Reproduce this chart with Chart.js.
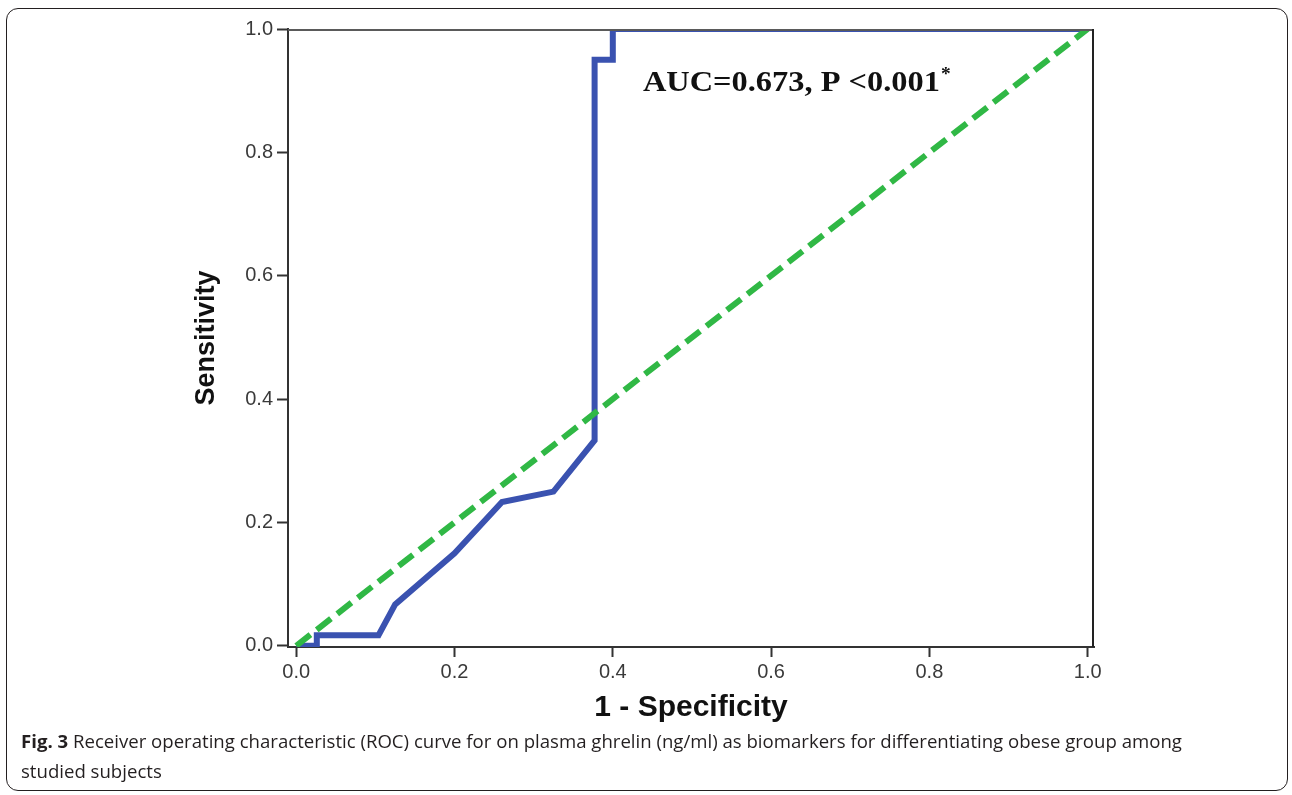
<!DOCTYPE html>
<html><head><meta charset="utf-8">
<script src="https://cdn.jsdelivr.net/npm/chart.js@4.4.1/dist/chart.umd.min.js"></script>
<style>
html,body{margin:0;padding:0;background:#fff;}
body{width:1292px;height:795px;position:relative;overflow:hidden;}
#c{position:absolute;left:0;top:0;}
#frame{position:absolute;left:6px;top:8px;width:1282px;height:783px;border:1.5px solid #231f20;border-radius:12px;box-sizing:border-box;pointer-events:none;}
#cap{position:absolute;left:21px;top:726px;font-family:"Open Sans",sans-serif;font-size:18.6px;line-height:30px;color:#231f20;white-space:nowrap;}
#cap b{font-weight:700;}
</style></head>
<body>
<canvas id="c" width="1292" height="730"></canvas>
<div id="frame"></div>
<div id="cap"><b>Fig. 3</b> Receiver operating characteristic (ROC) curve for on plasma ghrelin (ng/ml) as biomarkers for differentiating obese group among<br>studied subjects</div>
<script>
// ROC curve (1 - Specificity, Sensitivity)
const rocX = [0, 0.026, 0.026, 0.104, 0.125, 0.2, 0.26, 0.325, 0.377, 0.377, 0.4, 0.4, 1.0];
const rocY = [0, 0, 0.017, 0.017, 0.067, 0.15, 0.233, 0.25, 0.333, 0.95, 0.95, 1.0, 1.0];
// Reference diagonal
const refX = [0, 1];
const refY = [0, 1];
// Tick labels
const xTicks = [0, 0.2, 0.4, 0.6, 0.8, 1.0];
const yTicks = [0, 0.2, 0.4, 0.6, 0.8, 1.0];
const xTitle = '1 - Specificity';
const yTitle = 'Sensitivity';
const annText = 'AUC=0.673, P <0.001';
const annSup = '*';
const annX = 0.438, annY = 0.9;

const sans = '"Liberation Sans", Arial, sans-serif';

const framePlugin = {
  id: 'frameAndNote',
  afterDatasetsDraw(chart) {
    const {ctx, chartArea: a} = chart;
    ctx.save();
    ctx.lineWidth = 2;
    ctx.strokeStyle = '#5a5a5a';
    ctx.beginPath(); ctx.moveTo(a.left, a.top + 1); ctx.lineTo(a.right, a.top + 1); ctx.stroke();
    ctx.strokeStyle = '#222';
    ctx.beginPath(); ctx.moveTo(a.right - 1, a.top); ctx.lineTo(a.right - 1, a.bottom); ctx.stroke();
    const px = chart.scales.x.getPixelForValue(annX);
    const py = chart.scales.y.getPixelForValue(annY);
    ctx.fillStyle = '#111';
    ctx.textAlign = 'left';
    ctx.textBaseline = 'alphabetic';
    ctx.font = 'bold 30px "Liberation Serif", "Times New Roman", serif';
    ctx.translate(px, py);
    ctx.scale(1.08, 1);
    ctx.fillText(annText, 0, 0);
    const w = ctx.measureText(annText).width;
    ctx.font = 'bold 18px "Liberation Serif", "Times New Roman", serif';
    ctx.fillText(annSup, w + 1, -11);
    ctx.restore();
  }
};

new Chart(document.getElementById('c'), {
  type: 'scatter',
  data: {
    datasets: [
      {
        label: 'Reference line',
        data: refX.map((x, i) => ({x, y: refY[i]})),
        showLine: true,
        borderColor: '#30b845',
        borderWidth: 6,
        borderDash: [18, 8],
        borderCapStyle: 'butt',
        pointRadius: 0,
        tension: 0,
        fill: false,
        clip: 0
      },
      {
        label: 'ROC',
        data: rocX.map((x, i) => ({x, y: rocY[i]})),
        showLine: true,
        borderColor: '#3a52b0',
        borderWidth: 6,
        borderJoinStyle: 'miter',
        pointRadius: 0,
        tension: 0,
        fill: false,
        clip: 0
      }
    ]
  },
  options: {
    responsive: false,
    animation: false,
    devicePixelRatio: 1,
    layout: {padding: {left: 0, top: 29, right: 198, bottom: 0}},
    plugins: {legend: {display: false}, tooltip: {enabled: false}},
    scales: {
      x: {
        type: 'linear',
        position: 'bottom',
        min: -0.0104,
        max: 1.008,
        afterBuildTicks: s => { s.ticks = xTicks.map(v => ({value: v})); },
        afterFit: s => { s.height = 83; },
        ticks: {callback: v => Number(v).toFixed(1), font: {family: sans, size: 20}, color: '#3a3a3a', padding: 3, maxRotation: 0, autoSkip: false},
        grid: {drawOnChartArea: false, drawTicks: true, tickLength: 10, tickColor: '#333', tickWidth: 2},
        border: {display: true, color: '#333', width: 2},
        title: {display: true, text: xTitle, font: {family: sans, size: 30, weight: 'bold'}, color: '#111', padding: {top: 0, bottom: 4}}
      },
      y: {
        type: 'linear',
        position: 'left',
        min: -0.002,
        max: 1.0,
        afterBuildTicks: s => { s.ticks = yTicks.map(v => ({value: v})); },
        afterFit: s => { s.width = 288; },
        ticks: {callback: v => Number(v).toFixed(1), font: {family: sans, size: 20}, color: '#3a3a3a', padding: 4, autoSkip: false},
        grid: {drawOnChartArea: false, drawTicks: true, tickLength: 11, tickColor: '#333', tickWidth: 2},
        border: {display: true, color: '#333', width: 2},
        title: {display: true, text: yTitle, font: {family: sans, size: 27, weight: 'bold'}, color: '#111', padding: {top: 190, bottom: 0}}
      }
    }
  },
  plugins: [framePlugin]
});
</script>
</body></html>
